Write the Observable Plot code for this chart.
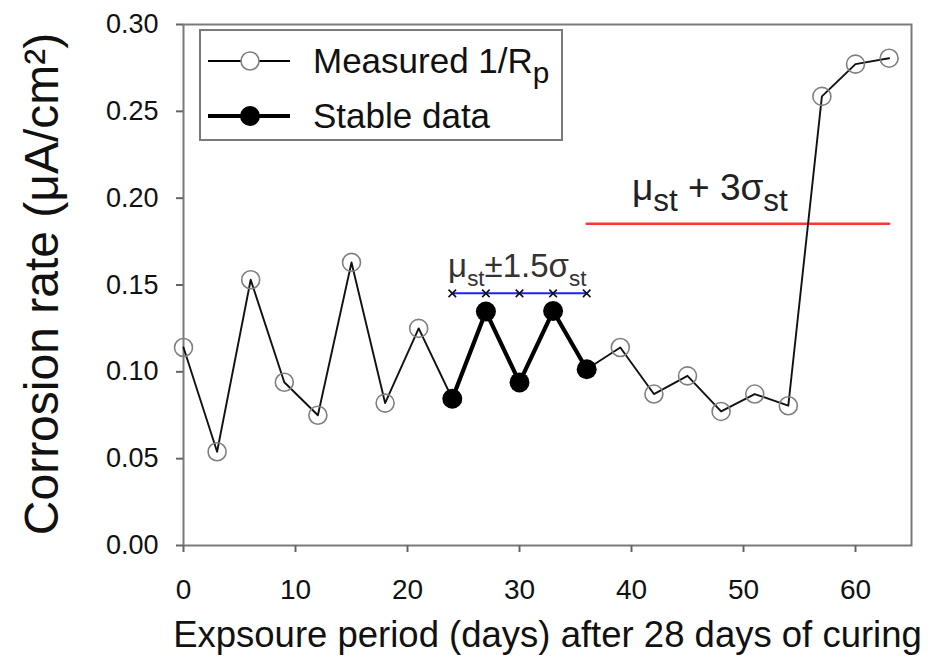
<!DOCTYPE html>
<html><head><meta charset="utf-8">
<script src="https://cdn.jsdelivr.net/npm/d3@7"></script>
<script src="https://cdn.jsdelivr.net/npm/@observablehq/plot@0.6"></script>
<style>
body{margin:0;background:#fff;font-family:"Liberation Sans",Arial,sans-serif}
#chart{position:relative;width:938px;height:663px}
</style>
</head><body><div id="chart"></div>
<script>
// ---- data ----
const days = [0,3,6,9,12,15,18,21,24,27,30,33,36,39,42,45,48,51,54,57,60,63];
const rate = [0.114,0.054,0.153,0.094,0.075,0.163,0.082,0.125,0.0845,0.1347,0.0939,0.135,0.1015,0.114,0.0872,0.0977,0.0772,0.0872,0.0805,0.2586,0.2772,0.2806];
const stableStart = 24, stableEnd = 36;
const bandDays = [24,27,30,33,36];
const bandValue = 0.1452;
const thresholdDays = [36,63];
const thresholdValue = 0.1852;
const xTicks = [0,10,20,30,40,50,60];
const yTicks = [0,0.05,0.10,0.15,0.20,0.25,0.30];
const xLabel = "Expsoure period (days) after 28 days of curing";
const yLabel = "Corrosion rate (μA/cm²)";
const legendLabels = ["Measured 1/R_{p}", "Stable data"];
const annBand = {x: 29.8, y: 0.1545, text: "μ_{st}±1.5σ_{st}"};
const annThreshold = {x: 47, y: 0.199, text: "μ_{st} + 3σ_{st}"};

// ---- tables ----
const measured = days.map((d,i)=>({day:d, rate:rate[i]}));
const stable = measured.filter(d=>d.day>=stableStart && d.day<=stableEnd);
const openPts = measured.filter(d=>d.day<stableStart || d.day>stableEnd);
const band = bandDays.map(d=>({day:d, rate:bandValue}));
const threshold = thresholdDays.map(d=>({day:d, rate:thresholdValue}));

const FONT = "Liberation Sans, Arial, sans-serif";
const plot = Plot.plot({
  width: 938, height: 663,
  marginLeft: 183, marginRight: 27, marginTop: 24, marginBottom: 118,
  style: {fontFamily: FONT, background: "#fff", color: "#111"},
  x: {domain: [0,65]},
  y: {domain: [0,0.30]},
  marks: [
    Plot.frame({stroke: "#7a7a7a", strokeWidth: 2}),
    Plot.axisX({ticks: xTicks, tickSize: 7, tickPadding: 27, fontSize: 28, label: null, stroke: "#666", strokeWidth: 2}),
    Plot.axisY({ticks: yTicks, tickFormat: d3.format(".2f"), tickSize: 7, tickPadding: 18, fontSize: 27, label: null, stroke: "#666", strokeWidth: 2}),
    Plot.text([xLabel], {frameAnchor: "bottom", dy: 101, fontSize: 36.5, fill: "#111"}),
    Plot.line(threshold, {x: "day", y: "rate", stroke: "#ff3535", strokeWidth: 2.5}),
    Plot.line(band, {x: "day", y: "rate", stroke: "#2020ff", strokeWidth: 2}),
    Plot.dot(band, {x: "day", y: "rate", symbol: "times", r: 3.5, stroke: "#111", strokeWidth: 1.6}),
    Plot.line(measured, {x: "day", y: "rate", stroke: "#111", strokeWidth: 1.9}),
    Plot.line(stable, {x: "day", y: "rate", stroke: "#000", strokeWidth: 4.2}),
    Plot.dot(openPts, {x: "day", y: "rate", r: 9, stroke: "#808080", strokeWidth: 1.6, fill: "none"}),
    Plot.dot(stable, {x: "day", y: "rate", r: 10, fill: "#000", stroke: "none"}),
    Plot.text([annBand], {x: "x", y: "y", text: "text", fontSize: 33, fill: "#333", lineAnchor: "bottom"}),
    Plot.text([annThreshold], {x: "x", y: "y", text: "text", fontSize: 37, fill: "#222", lineAnchor: "bottom"})
  ]
});
document.getElementById("chart").appendChild(plot);

// rich text: _{...} -> subscript
function richify(textEl, str, fs, scale, shift) {
  while (textEl.firstChild) textEl.removeChild(textEl.firstChild);
  const parts = str.split(/(_\{[^}]*\})/).filter(s=>s.length);
  const ns = "http://www.w3.org/2000/svg";
  let down = false;
  for (const p of parts) {
    const t = document.createElementNS(ns, "tspan");
    if (p.startsWith("_{")) {
      t.textContent = p.slice(2,-1);
      t.setAttribute("font-size", fs*scale);
      if (!down) { t.setAttribute("dy", fs*shift); down = true; }
    } else {
      t.textContent = p;
      if (down) { t.setAttribute("dy", -fs*shift); down = false; }
    }
    textEl.appendChild(t);
  }
}
const svg = d3.select(plot);
svg.selectAll("text").each(function(){
  const s = this.textContent;
  if (s === annBand.text) richify(this, s, 33, 0.68, 0.26);
  else if (s === annThreshold.text) richify(this, s, 37, 0.85, 0.3);
});

// y-axis title
svg.append("text")
  .attr("transform", "translate(41,284) rotate(-90)")
  .attr("text-anchor", "middle").attr("dy", "0.36em")
  .attr("font-family", FONT).attr("font-size", 48).attr("fill", "#111")
  .text(yLabel);

// legend
const lg = svg.append("g").attr("font-family", FONT);
lg.append("rect").attr("x",200).attr("y",30).attr("width",362).attr("height",110)
  .attr("fill","#fff").attr("stroke","#7a7a7a").attr("stroke-width",2);
const rows = [
  {y: 61, sw: 1.9, r: 9, fill: "#fff", stroke: "#808080"},
  {y: 116, sw: 4.2, r: 10, fill: "#000", stroke: "none"}
];
rows.forEach((row,i)=>{
  lg.append("line").attr("x1",208).attr("x2",290).attr("y1",row.y).attr("y2",row.y)
    .attr("stroke","#000").attr("stroke-width",row.sw);
  lg.append("circle").attr("cx",250).attr("cy",row.y).attr("r",row.r)
    .attr("fill",row.fill).attr("stroke",row.stroke).attr("stroke-width",1.6);
  const t = lg.append("text").attr("x",313).attr("y",row.y).attr("dy","0.34em")
    .attr("text-anchor","start").attr("font-size",35).attr("fill","#111");
  richify(t.node(), legendLabels[i], 35, 0.85, 0.3);
});
</script>
</body></html>
